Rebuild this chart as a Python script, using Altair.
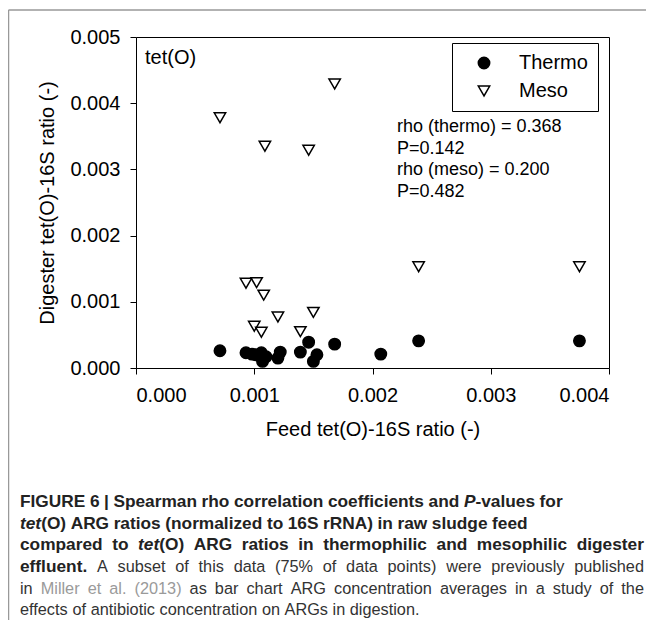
import altair as alt
import pandas as pd

# ---- data ----
thermo_x = [0.00071, 0.00093, 0.00098, 0.00101, 0.00106, 0.00110, 0.00107, 0.00120, 0.00122,
            0.00139, 0.00146, 0.00150, 0.00153, 0.00168, 0.00207, 0.00239, 0.00375]
thermo_y = [0.00026, 0.00023, 0.00021, 0.00020, 0.00023, 0.00017, 0.00010, 0.00015, 0.00024,
            0.00024, 0.00039, 0.00010, 0.00020, 0.00036, 0.00021, 0.00041, 0.00041]
meso_x = [0.00071, 0.00093, 0.00102, 0.00108, 0.00109, 0.00100, 0.00106, 0.00120, 0.00139,
          0.00146, 0.00150, 0.00168, 0.00239, 0.00375]
meso_y = [0.00378, 0.00128, 0.00129, 0.00110, 0.00335, 0.00063, 0.00054, 0.00077, 0.00055,
          0.00329, 0.00084, 0.00429, 0.00153, 0.00153]
series_names = ["Thermo", "Meso"]
x_ticks = [0.000, 0.001, 0.002, 0.003, 0.004]
y_ticks = [0.000, 0.001, 0.002, 0.003, 0.004, 0.005]
annot_lines = ["rho (thermo) = 0.368", "P=0.142", "rho (meso) = 0.200", "P=0.482"]

# caption runs: (text, style)  styles: B bold, BI bold italic, R regular, G gray link
caption_lines = [
    [("FIGURE 6 | Spearman rho correlation coefficients and ", "B"), ("P", "BI"), ("-values for", "B")],
    [("tet", "BI"), ("(O) ARG ratios (normalized to 16S rRNA) in raw sludge feed", "B")],
    [("compared to ", "B"), ("tet", "BI"), ("(O) ARG ratios in thermophilic and mesophilic digester", "B")],
    [("effluent.", "B"), (" A subset of this data (75% of data points) were previously published", "R")],
    [("in ", "R"), ("Miller et al. (2013)", "G"), (" as bar chart ARG concentration averages in a study of the", "R")],
    [("effects of antibiotic concentration on ARGs in digestion.", "R")],
]
caption_justify = [False, False, True, True, True, False]

df = pd.DataFrame({
    "feed": thermo_x + meso_x,
    "digester": thermo_y + meso_y,
    "series": ["Thermo"] * len(thermo_x) + ["Meso"] * len(meso_x),
})
one = pd.DataFrame({"k": [0]})

FONT = "Liberation Sans, Arial, Helvetica, sans-serif"

# ---- Arial / Liberation Sans advance widths (1/1000 em) for caption layout ----
_reg = dict(zip(" %()-.0123456789|", [278, 889, 333, 333, 333, 278] + [556] * 10 + [260]))
_reg.update(dict(zip("ABCDEFGHIJKLMNOPQRSTUVWXYZ",
                     [667, 667, 722, 722, 667, 611, 778, 722, 278, 500, 667, 556, 833, 722, 778, 667,
                      778, 722, 667, 611, 722, 667, 944, 667, 667, 611])))
_reg.update(dict(zip("abcdefghijklmnopqrstuvwxyz",
                     [556, 556, 500, 556, 556, 278, 556, 556, 222, 222, 500, 222, 833, 556, 556, 556,
                      556, 333, 500, 278, 556, 500, 722, 500, 500, 500])))
_bold = dict(zip(" %()-.0123456789|", [278, 889, 333, 333, 333, 278] + [556] * 10 + [280]))
_bold.update(dict(zip("ABCDEFGHIJKLMNOPQRSTUVWXYZ",
                      [722, 722, 722, 722, 667, 611, 778, 722, 278, 556, 722, 611, 833, 722, 778, 667,
                       778, 722, 667, 611, 722, 667, 944, 667, 667, 611])))
_bold.update(dict(zip("abcdefghijklmnopqrstuvwxyz",
                      [556, 611, 556, 611, 556, 333, 611, 611, 278, 278, 556, 278, 889, 611, 611, 611,
                       611, 389, 556, 333, 611, 556, 778, 556, 556, 500])))

SIZE = {"B": 17.3, "BI": 17.3, "R": 16.3, "G": 16.3}


def text_w(s, style):
    tbl = _bold if style in ("B", "BI") else _reg
    return sum(tbl.get(c, 556) for c in s) * SIZE[style] / 1000.0


# plot origin on page is (136, 37); caption coordinates relative to it
CAP_X0 = 20 - 136
CAP_X1 = 644 - 136
CAP_Y = [y - 37 for y in [502, 523.7, 545.4, 567, 588.7, 610.4]]

frags = []  # (text, x, y, style)
for li, runs in enumerate(caption_lines):
    words, cur = [], []
    for txt, st in runs:
        parts = txt.split(" ")
        for pi, p in enumerate(parts):
            if pi > 0:
                if cur:
                    words.append(cur)
                cur = []
            if p:
                cur.append((p, st))
    if cur:
        words.append(cur)
    wlens = [sum(text_w(f, s) for f, s in w) for w in words]
    space = text_w(" ", "R")
    gap = space
    if caption_justify[li] and len(words) > 1:
        natural = sum(wlens) + space * (len(words) - 1)
        gap = max(space, space + (CAP_X1 - CAP_X0 - natural) / (len(words) - 1))
    x = CAP_X0
    for w, wl in zip(words, wlens):
        xx = x
        for f, s in w:
            frags.append((f, xx, CAP_Y[li], s))
            xx += text_w(f, s)
        x += wl + gap

cap_df = pd.DataFrame(frags, columns=["t", "px", "py", "style"])

legend = alt.Legend(
    title=None, orient="none", legendX=316, legendY=6,
    strokeColor="black", padding=10, labelFontSize=20, labelFont=FONT,
    labelColor="black", symbolSize=130, rowPadding=8, symbolOffset=12,
    labelOffset=25, symbolStrokeWidth=1.5,
)

points = alt.Chart(df).mark_point(
    filled=True, size=130, strokeWidth=1.5, opacity=1
).encode(
    x=alt.X("feed:Q", scale=alt.Scale(domain=[0, 0.004], nice=False, zero=False),
            axis=alt.Axis(values=x_ticks, format=".3f", title="Feed tet(O)-16S ratio (-)")),
    y=alt.Y("digester:Q", scale=alt.Scale(domain=[0, 0.005], nice=False, zero=False),
            axis=alt.Axis(values=y_ticks, format=".3f", title="Digester tet(O)-16S ratio (-)")),
    shape=alt.Shape("series:N", scale=alt.Scale(domain=series_names, range=["circle", "triangle-down"]),
                    legend=legend),
    fill=alt.Fill("series:N", scale=alt.Scale(domain=series_names, range=["black", "white"]),
                  legend=legend),
    stroke=alt.Stroke("series:N", scale=alt.Scale(domain=series_names, range=["black", "black"]),
                      legend=legend),
)

layers = [points]

# panel label
layers.append(alt.Chart(one).mark_text(
    text="tet(O)", align="left", baseline="middle", fontSize=20, font=FONT, color="black"
).encode(x=alt.value(9), y=alt.value(21)))

# rho / P annotation
annot_y = [89.7, 111.5, 133.3, 155]
for t, yy in zip(annot_lines, annot_y):
    layers.append(alt.Chart(one).mark_text(
        text=t, align="left", baseline="middle", fontSize=18, font=FONT, color="black"
    ).encode(x=alt.value(261), y=alt.value(yy)))

# outer figure frame
layers.append(alt.Chart(one).mark_rule(color="#999999", strokeWidth=1.5).encode(
    x=alt.value(-127.5), y=alt.value(-27), y2=alt.value(600)))
layers.append(alt.Chart(one).mark_rule(color="#999999", strokeWidth=1.5).encode(
    x=alt.value(-127.5), x2=alt.value(530), y=alt.value(-27)))

# caption, one layer per text style
style_props = {
    "B": dict(fontWeight="bold", fontStyle="normal", color="#222222"),
    "BI": dict(fontWeight="bold", fontStyle="italic", color="#222222"),
    "R": dict(fontWeight="normal", fontStyle="normal", color="#333333"),
    "G": dict(fontWeight="normal", fontStyle="normal", color="#9a9a9a"),
}
for st, props in style_props.items():
    sub = cap_df[cap_df["style"] == st]
    if len(sub) == 0:
        continue
    layers.append(alt.Chart(sub).mark_text(
        align="left", baseline="middle", fontSize=SIZE[st], font=FONT, **props
    ).encode(
        x=alt.X("px:Q", scale=None, axis=None),
        y=alt.Y("py:Q", scale=None, axis=None),
        text="t:N",
    ))

chart = alt.layer(*layers).properties(
    width=473, height=331,
    autosize=alt.AutoSizeParams(type="none"),
    padding={"left": 128, "top": 29, "right": 37, "bottom": 252},
).configure_view(
    stroke="black", strokeWidth=1
).configure_axis(
    grid=False, domain=False, labelFont=FONT, titleFont=FONT, labelFontSize=20,
    titleFontSize=20, labelColor="black", titleColor="black", tickColor="black",
    tickSize=6, titleFontWeight="normal",
).configure_axisX(
    labelPadding=11, titlePadding=14,
).configure_axisY(
    labelPadding=10, titlePadding=12,
)

chart.save("out.html", embed_options={"renderer": "svg", "actions": False})
